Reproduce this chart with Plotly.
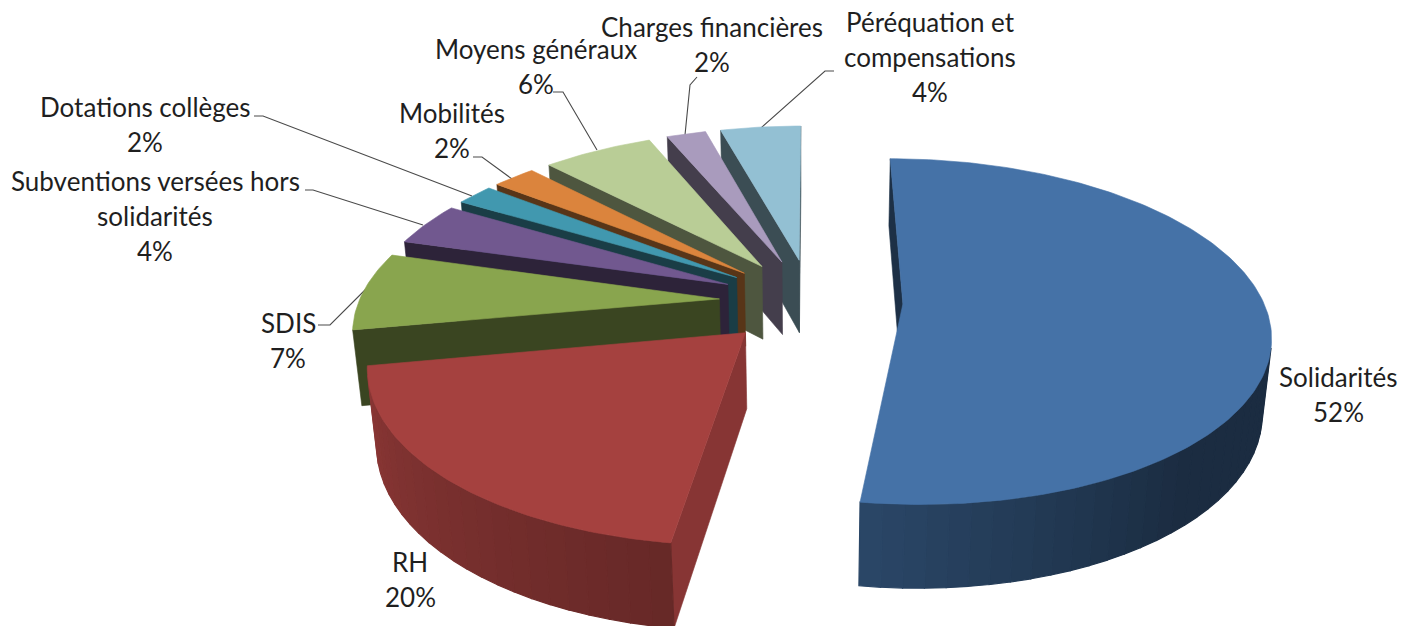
import math
import plotly.graph_objects as go

# ---- data (share of the total, clockwise from the top)
categories = ["Solidarités", "RH", "SDIS", "Subventions versées hors solidarités",
              "Dotations collèges", "Mobilités", "Moyens généraux",
              "Charges financières", "Péréquation et compensations"]
values = [52.55, 20.0, 7.35, 4.1, 2.0, 2.3, 5.9, 2.1, 4.3]

# ---- styles
top_colors = ["#4572A7", "#A5413F", "#89A54E", "#71588F", "#4198AF",
              "#DB843D", "#B9CD96", "#A99BBD", "#93C0D3"]
wall_shade = [0.42, 0.82, 0.42, 0.40, 0.40, 0.40, 0.42, 0.40, 0.40]
draw_order = [8, 7, 6, 5, 4, 3, 2, 1, 0]
label_lines = [["Solidarités"], ["RH"], ["SDIS"],
               ["Subventions versées hors", "solidarités"],
               ["Dotations collèges"], ["Mobilités"], ["Moyens généraux"],
               ["Charges financières"], ["Péréquation et", "compensations"]]
label_x = [1338, 410, 288, 155, 145, 452, 536, 712, 930]
label_y = [377, 562, 323, 181, 107, 113, 49, 27, 22]
LINE_PITCH = 35
FONT = "Lato, Carlito, Calibri, sans-serif"
FONT_SIZE = 26
leaders = [
    ([254, 263, 472], [116, 116, 196]),
    ([305, 313, 423], [190, 190, 225]),
    ([473, 482, 512], [157, 157, 179]),
    ([553, 563, 597], [92, 92, 150]),
    ([697, 690, 685], [77, 85, 135]),
    ([834, 825, 761], [71, 71, 128]),
    ([318, 330, 367], [325, 325, 288]),
]

# ---- camera used for the 3-D exploded pie
CX, CY = 811.0, 301.0
FOCAL, DIST = 2003.0, 5.56
SIN_E, COS_E = 0.465, 0.885
EXPLODE, DEPTH = 0.255, 0.238


def project(x, y, z=0.0):
    up = y * SIN_E + z * COS_E
    far = DIST + y * COS_E - z * SIN_E
    return CX + FOCAL * x / far, CY - FOCAL * up / far


def rim(theta, ox, oy):
    return ox + math.sin(theta), oy + math.cos(theta)


def mix(hex_color, k):
    r, g, b = int(hex_color[1:3], 16), int(hex_color[3:5], 16), int(hex_color[5:7], 16)
    return f"rgb({round(r*k)},{round(g*k)},{round(b*k)})"


def poly(fig, pts, color, name, width=0.6):
    xs = [p[0] for p in pts] + [pts[0][0]]
    ys = [p[1] for p in pts] + [pts[0][1]]
    fig.add_trace(go.Scatter(x=xs, y=ys, mode="lines", fill="toself", fillcolor=color,
                             line=dict(color=color, width=width), name=name,
                             hoverinfo="skip", showlegend=False))


def wall(a, b):
    """Screen quad of a wall below the edge a->b, and whether it faces the viewer."""
    q = [project(a[0], a[1]), project(b[0], b[1]),
         project(b[0], b[1], -DEPTH), project(a[0], a[1], -DEPTH)]
    area = sum(q[i][0] * q[(i + 1) % 4][1] - q[(i + 1) % 4][0] * q[i][1] for i in range(4))
    return q, area < 0


def rim_shade(deg):
    if deg <= 140:
        return 0.39
    if deg <= 188:
        return 0.39 + (deg - 140) * 0.0048
    return 0.62 + (deg - 188) * 0.0031


fig = go.Figure()

for xs, ys in leaders:
    fig.add_trace(go.Scatter(x=xs, y=ys, mode="lines", line=dict(color="#4a4a4a", width=1.1),
                             hoverinfo="skip", showlegend=False))

total = sum(values)
starts = []
acc = 0.0
for v in values:
    starts.append(acc)
    acc += v

for i in draw_order:
    t0 = starts[i] / total * 2 * math.pi
    t1 = (starts[i] + values[i]) / total * 2 * math.pi
    mid = (t0 + t1) / 2
    ox, oy = EXPLODE * math.sin(mid), EXPLODE * math.cos(mid)
    color = top_colors[i]
    apex = (ox, oy)

    for a, b in ((apex, rim(t0, ox, oy)), (rim(t1, ox, oy), apex)):
        q, visible = wall(a, b)
        if visible:
            poly(fig, q, mix(color, wall_shade[i]), categories[i])

    n = max(2, round((t1 - t0) / math.radians(3.0)))
    for k in range(n):
        ta = t0 + (t1 - t0) * k / n
        tb = t0 + (t1 - t0) * (k + 1) / n
        q, visible = wall(rim(ta, ox, oy), rim(tb, ox, oy))
        if visible:
            shade = rim_shade(math.degrees((ta + tb) / 2))
            if i >= 2:
                shade = min(shade, 0.45)
            poly(fig, q, mix(color, shade), categories[i], width=1.2)

    m = max(3, round((t1 - t0) / math.radians(1.0)))
    pts = [project(*apex)]
    for k in range(m + 1):
        pts.append(project(*rim(t0 + (t1 - t0) * k / m, ox, oy)))
    poly(fig, pts, color, categories[i])

annotations = []
for i, lines in enumerate(label_lines):
    pct = f"{round(values[i] / total * 100)}%"
    for j, line in enumerate(lines + [pct]):
        annotations.append(dict(x=label_x[i], y=label_y[i] + j * LINE_PITCH, xref="x", yref="y",
                                text=line, showarrow=False, xanchor="center", yanchor="middle",
                                font=dict(family=FONT, size=FONT_SIZE, color="#1f1f1f")))

fig.update_layout(
    width=1412, height=626, margin=dict(l=0, r=0, t=0, b=0),
    paper_bgcolor="white", plot_bgcolor="white", showlegend=False,
    xaxis=dict(range=[0, 1412], visible=False, fixedrange=True),
    yaxis=dict(range=[626, 0], visible=False, fixedrange=True),
    annotations=annotations,
)
fig.write_html("out.html", config={"displayModeBar": False},
               post_script="document.body.style.margin='0';document.body.style.overflow='hidden';")
